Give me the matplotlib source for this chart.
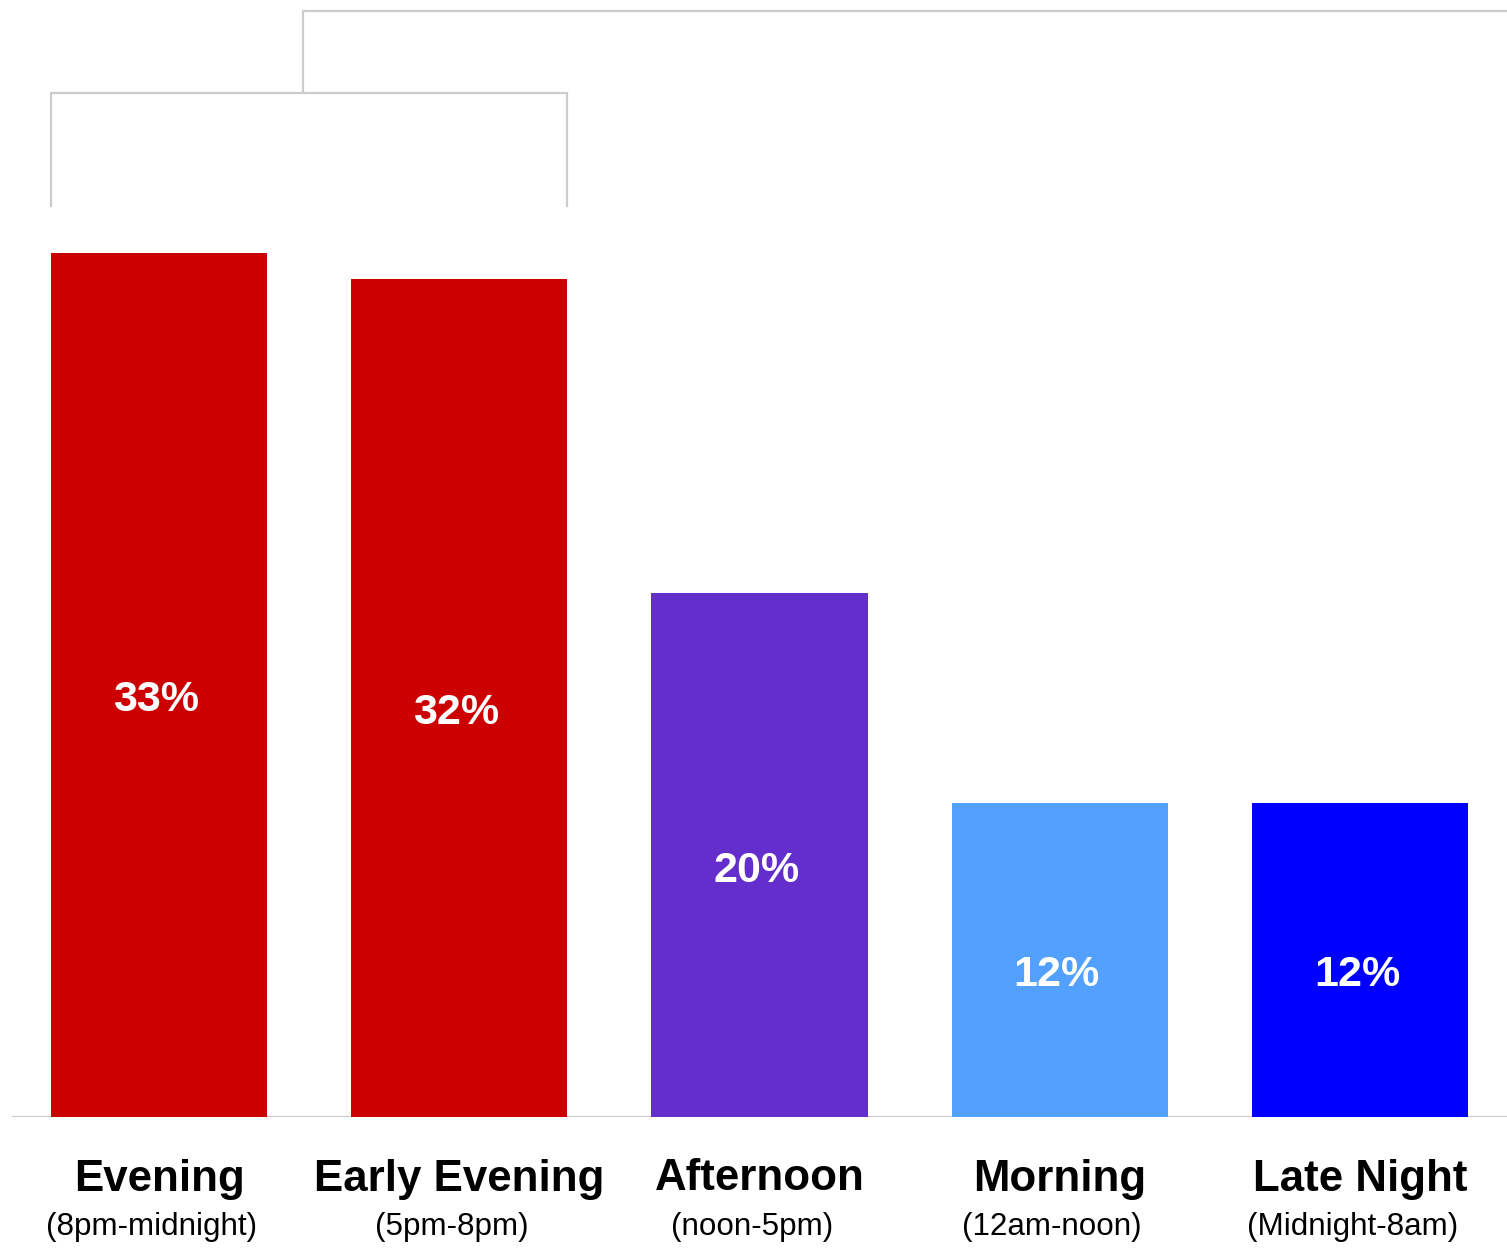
import matplotlib
matplotlib.use("Agg")
import matplotlib.pyplot as plt
from matplotlib.transforms import blended_transform_factory, offset_copy

plt.rcParams['font.family'] = ['Liberation Sans', 'DejaVu Sans']

categories = ["Evening", "Early Evening", "Afternoon", "Morning", "Late Night"]
time_ranges = ["(8pm-midnight)", "(5pm-8pm)", "(noon-5pm)", "(12am-noon)", "(Midnight-8am)"]
shares = [33, 32, 20, 12, 12]
colors = ["#CC0000", "#CC0000", "#632ECB", "#52A0FF", "#0000FF"]

W, H, DPI = 1507, 1248, 100
fig = plt.figure(figsize=(W / DPI, H / DPI), dpi=DPI)
ax = fig.add_axes([12 / W, 131 / H, 1495 / W, 1117 / H])

x = list(range(len(categories)))
bar_w = 0.72
ax.bar(x, shares, width=bar_w, color=colors, zorder=2)

ax.set_xlim(-0.49, 4.49)
ax.set_ylim(0, 42.67)
for s in ax.spines.values():
    s.set_visible(False)
ax.set_xticks([])
ax.set_yticks([])

# baseline
ax.axhline(0, color="#cccccc", lw=1.6, zorder=1)

# value labels inside bars
for xi, v in zip(x, shares):
    tr = offset_copy(ax.transData, fig=fig, x=0, y=-11, units='points')
    ax.text(xi - 0.01, v / 2, f"{v}%", transform=tr, ha='center', va='center',
            color='white', fontsize=31, fontweight='bold', zorder=3)

# category labels below axis
bt = blended_transform_factory(ax.transData, fig.transFigure)
for xi, name, rng in zip(x, categories, time_ranges):
    ax.text(xi, (H - 1179) / H, name, transform=bt, ha='center', va='center',
            fontsize=31.6, fontweight='bold', color='black', clip_on=False)
    ax.text(xi - 0.025, (H - 1227) / H, rng, transform=bt, ha='center', va='center',
            fontsize=22.6, color='black', clip_on=False)

# grouping brackets above the two evening bars
gray = "#cccccc"
left = x[0] - bar_w / 2
right = x[1] + bar_w / 2
top_low = 39.1
leg_bottom = 34.8
ax.plot([left, left, right, right], [leg_bottom, top_low, top_low, leg_bottom],
        color=gray, lw=1.6, clip_on=False, solid_joinstyle='miter')
mid = (x[0] + x[1]) / 2 - 0.02
ax.plot([mid, mid, 4.6], [top_low, 42.25, 42.25],
        color=gray, lw=1.6, clip_on=False, solid_joinstyle='miter')

fig.savefig("out.png", dpi=DPI, facecolor='white')
